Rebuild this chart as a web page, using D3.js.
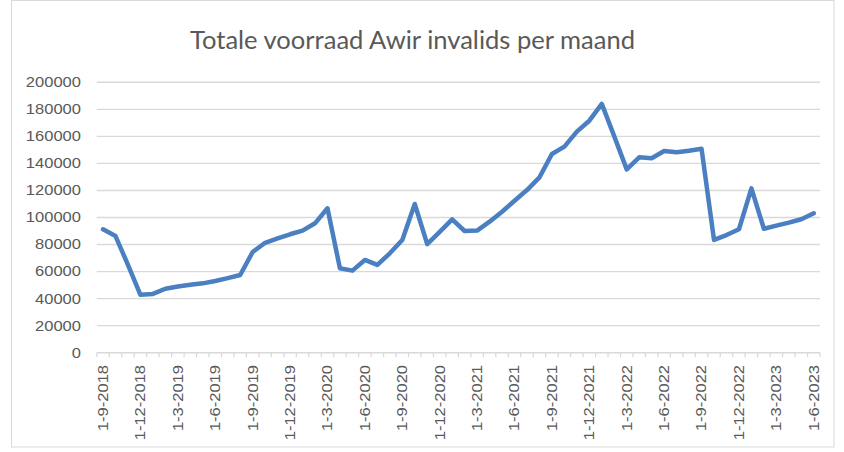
<!DOCTYPE html>
<html>
<head>
<meta charset="utf-8">
<script src="https://cdn.jsdelivr.net/npm/d3@7"></script>
<style>
  html, body { margin: 0; padding: 0; background: #fff; }
  svg { display: block; }
</style>
</head>
<body>
<svg id="chart" width="844" height="452"></svg>
<script>
// ---- data ----
const title = "Totale voorraad Awir invalids per maand";
// months from 1-9-2018 to 1-6-2023 (first of month)
const startYear = 2018, startMonth = 9, monthCount = 58;
const values = [
  91300, 86300, 65000, 42800, 43500, 47300, 49000, 50200, 51300, 53000,
  55200, 57500, 74500, 81300, 84600, 87600, 90300, 95700, 106800, 62400,
  60700, 68600, 64900, 73500, 83400, 110000, 80300, 89300, 98600, 90000,
  90300, 96900, 104300, 112400, 120300, 129700, 147000, 152400, 163500, 171600,
  184000, 160000, 135600, 144500, 143800, 149200, 148200, 149400, 150800, 83400,
  87000, 91300, 121600, 91700, 94000, 96200, 98700, 103100
];
const yTicks = [0, 20000, 40000, 60000, 80000, 100000, 120000, 140000, 160000, 180000, 200000];

const categories = d3.range(monthCount).map(i => {
  const m0 = startMonth - 1 + i;
  const y = startYear + Math.floor(m0 / 12);
  const m = (m0 % 12) + 1;
  return "1-" + m + "-" + y;
});
const labelEvery = 3;

// ---- layout ----
const svg = d3.select("#chart");
const plot = { left: 96.8, right: 820, top: 82.3, bottom: 352.7 };
const textColor = "#595959";
const gridColor = "#d9d9d9";
const stretch = 1.18;

// chart border
svg.append("rect")
  .attr("x", 11.5).attr("y", 0.5)
  .attr("width", 822.5).attr("height", 446.5)
  .attr("fill", "#fff").attr("stroke", "#d9d9d9").attr("stroke-width", 1);

const x = d3.scaleBand().domain(categories).range([plot.left, plot.right]).paddingInner(0).paddingOuter(0);
const cx = c => x(c) + x.bandwidth() / 2;
const y = d3.scaleLinear().domain([0, 200000]).range([plot.bottom, plot.top]);

// gridlines
svg.append("g").selectAll("line").data(yTicks.filter(t => t > 0)).join("line")
  .attr("x1", plot.left).attr("x2", plot.right)
  .attr("y1", d => y(d)).attr("y2", d => y(d))
  .attr("stroke", gridColor).attr("stroke-width", 1.4);

// y labels
const yl = svg.append("g").selectAll("text").data(yTicks).join("text")
  .attr("x", 81).attr("y", d => y(d)).attr("dy", "0.35em")
  .attr("text-anchor", "end")
  .attr("font-family", "Liberation Sans, Arial, sans-serif")
  .attr("font-size", 14)
  .attr("fill", textColor)
  .text(d => String(d));
yl.each(function() {
  const w = this.getComputedTextLength();
  d3.select(this).attr("textLength", w * stretch).attr("lengthAdjust", "spacingAndGlyphs");
});

// x axis line
svg.append("line")
  .attr("x1", plot.left).attr("x2", plot.right)
  .attr("y1", plot.bottom).attr("y2", plot.bottom)
  .attr("stroke", gridColor).attr("stroke-width", 1.4);

// x ticks at category boundaries
const boundaries = categories.map(c => x(c)).concat([plot.right]);
svg.append("g").selectAll("line").data(boundaries).join("line")
  .attr("x1", d => d).attr("x2", d => d)
  .attr("y1", plot.bottom).attr("y2", plot.bottom + 4.5)
  .attr("stroke", gridColor).attr("stroke-width", 1.2);

// x labels
const xl = svg.append("g").selectAll("text")
  .data(categories.filter((c, i) => i % labelEvery === 0)).join("text")
  .attr("transform", d => `translate(${cx(d)},365) rotate(-90)`)
  .attr("dy", "0.35em")
  .attr("text-anchor", "end")
  .attr("font-family", "Liberation Sans, Arial, sans-serif")
  .attr("font-size", 14)
  .attr("fill", textColor)
  .text(d => d);
xl.each(function() {
  const w = this.getComputedTextLength();
  d3.select(this).attr("textLength", w * stretch).attr("lengthAdjust", "spacingAndGlyphs");
});

// line
const line = d3.line().x((d, i) => cx(categories[i])).y(d => y(d));
svg.append("path").datum(values)
  .attr("d", line)
  .attr("fill", "none")
  .attr("stroke", "#4a7fc1")
  .attr("stroke-width", 4.5)
  .attr("stroke-linejoin", "round")
  .attr("stroke-linecap", "round");

// title
const t = svg.append("text")
  .attr("x", 412.5).attr("y", 49)
  .attr("text-anchor", "middle")
  .attr("font-family", "Lato, Open Sans, sans-serif")
  .attr("font-size", 24.5)
  .attr("fill", textColor)
  .text(title);
t.attr("textLength", 445).attr("lengthAdjust", "spacingAndGlyphs");
</script>
</body>
</html>
